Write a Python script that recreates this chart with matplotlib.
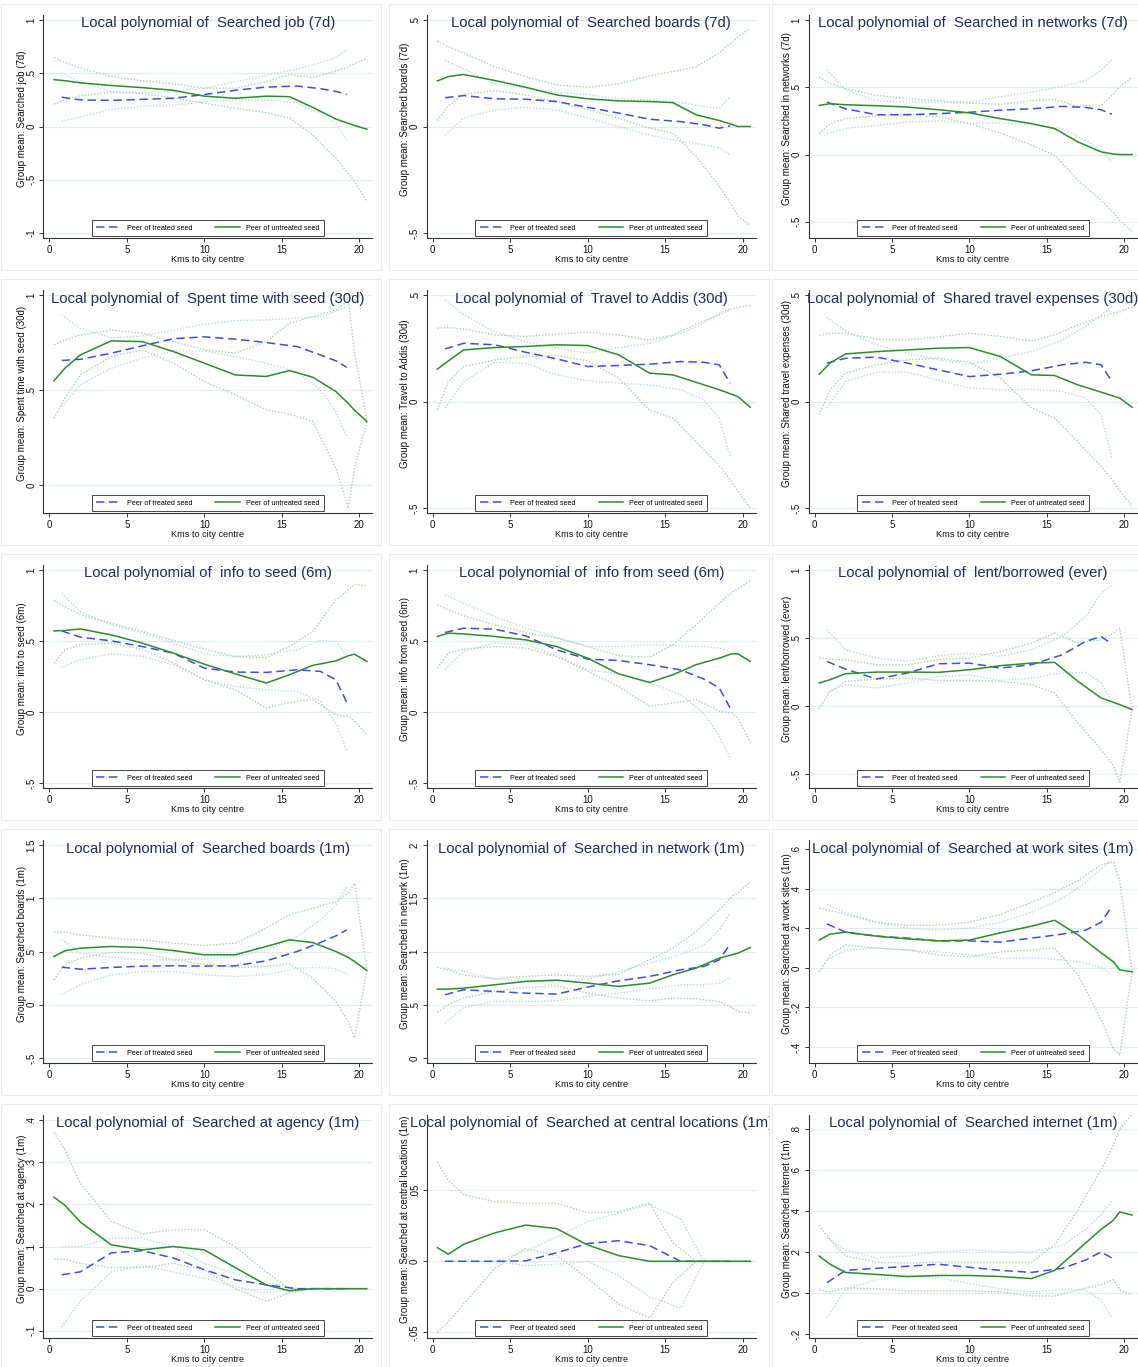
import matplotlib
matplotlib.use('Agg')
import matplotlib.pyplot as plt
from matplotlib.patches import Rectangle
from matplotlib.ticker import FuncFormatter

plt.rcParams['font.family'] = ['Liberation Sans', 'DejaVu Sans']

# distance grids (km) for the two groups
tx = [0.8, 2, 4, 6, 8, 10, 12, 14, 16, 17.5, 18.5, 19.2]
ux = [0.3, 1, 2, 4, 6, 8, 10, 12, 14, 15.5, 17, 18.5, 19.3, 19.7, 20.5]

# 1 Searched job (7d)
job7_t = [0.275, 0.25, 0.245, 0.255, 0.265, 0.30, 0.34, 0.37, 0.38, 0.355, 0.33, 0.30]
job7_t_hi = [0.5, 0.42, 0.33, 0.32, 0.33, 0.36, 0.42, 0.48, 0.54, 0.6, 0.65, 0.72]
job7_t_lo = [0.05, 0.09, 0.16, 0.19, 0.20, 0.23, 0.25, 0.25, 0.22, 0.12, 0.03, -0.13]
job7_u = [0.44, 0.43, 0.41, 0.385, 0.365, 0.34, 0.285, 0.265, 0.285, 0.28, 0.18, 0.07, 0.03, 0.01, -0.025]
job7_u_hi = [0.65, 0.6, 0.55, 0.47, 0.43, 0.4, 0.36, 0.36, 0.42, 0.49, 0.46, 0.52, 0.56, 0.59, 0.64]
job7_u_lo = [0.21, 0.25, 0.29, 0.32, 0.31, 0.27, 0.22, 0.17, 0.13, 0.08, -0.08, -0.3, -0.44, -0.52, -0.7]

# 2 Searched boards (7d)
brd7_t = [0.135, 0.145, 0.13, 0.128, 0.117, 0.09, 0.063, 0.034, 0.023, 0.008, -0.008, 0.003]
brd7_t_hi = [0.31, 0.27, 0.2, 0.18, 0.16, 0.15, 0.13, 0.125, 0.112, 0.094, 0.086, 0.14]
brd7_t_lo = [-0.04, 0.04, 0.078, 0.09, 0.078, 0.04, 0.0, -0.04, -0.07, -0.086, -0.1, -0.133]
brd7_u = [0.214, 0.234, 0.244, 0.216, 0.184, 0.148, 0.13, 0.12, 0.117, 0.112, 0.055, 0.028, 0.01, 0.0, 0.0]
brd7_u_hi = [0.4, 0.375, 0.344, 0.28, 0.234, 0.195, 0.184, 0.2, 0.237, 0.258, 0.28, 0.344, 0.395, 0.42, 0.46]
brd7_u_lo = [0.028, 0.097, 0.15, 0.169, 0.148, 0.117, 0.078, 0.04, -0.008, -0.03, -0.14, -0.28, -0.37, -0.42, -0.465]

# 3 Searched in networks (7d)
net7_t = [0.39, 0.34, 0.296, 0.296, 0.304, 0.314, 0.33, 0.34, 0.358, 0.35, 0.333, 0.3]
net7_t_hi = [0.63, 0.48, 0.4, 0.39, 0.39, 0.39, 0.43, 0.464, 0.506, 0.55, 0.625, 0.706]
net7_t_lo = [0.155, 0.193, 0.217, 0.242, 0.25, 0.235, 0.235, 0.225, 0.193, 0.106, 0.032, -0.054]
net7_u = [0.365, 0.378, 0.37, 0.363, 0.353, 0.333, 0.31, 0.267, 0.23, 0.193, 0.094, 0.02, 0.004, 0.0, 0.0]
net7_u_hi = [0.575, 0.53, 0.49, 0.44, 0.415, 0.4, 0.383, 0.373, 0.4, 0.41, 0.358, 0.365, 0.45, 0.5, 0.575]
net7_u_lo = [0.155, 0.23, 0.267, 0.29, 0.3, 0.28, 0.23, 0.16, 0.07, -0.005, -0.19, -0.34, -0.43, -0.49, -0.57]

# 4 Spent time with seed (30d)
time30_t = [0.656, 0.662, 0.694, 0.733, 0.77, 0.78, 0.768, 0.75, 0.729, 0.685, 0.654, 0.62]
time30_t_hi = [0.895, 0.825, 0.776, 0.785, 0.816, 0.846, 0.865, 0.869, 0.878, 0.886, 0.913, 0.94]
time30_t_lo = [0.414, 0.528, 0.615, 0.668, 0.706, 0.706, 0.676, 0.642, 0.598, 0.502, 0.388, 0.257]
time30_u = [0.549, 0.615, 0.685, 0.759, 0.755, 0.703, 0.642, 0.58, 0.572, 0.603, 0.568, 0.493, 0.43, 0.395, 0.336]
time30_u_hi = [0.738, 0.764, 0.79, 0.816, 0.799, 0.755, 0.712, 0.694, 0.755, 0.851, 0.886, 0.92, 0.97, 0.7, 0.34]
time30_u_lo = [0.353, 0.458, 0.58, 0.677, 0.712, 0.642, 0.545, 0.476, 0.397, 0.374, 0.336, 0.09, -0.12, 0.09, 0.336]

# 5 Travel to Addis (30d)
addis_t = [0.247, 0.273, 0.266, 0.231, 0.2, 0.164, 0.169, 0.175, 0.1875, 0.184, 0.172, 0.086]
addis_t_hi = [0.477, 0.406, 0.328, 0.28, 0.25, 0.227, 0.253, 0.273, 0.32, 0.367, 0.414, 0.4375]
addis_t_lo = [-0.03, 0.094, 0.184, 0.18, 0.125, 0.097, 0.086, 0.078, 0.055, 0.008, -0.078, -0.258]
addis_u = [0.152, 0.19, 0.242, 0.253, 0.258, 0.266, 0.2625, 0.219, 0.133, 0.125, 0.09, 0.055, 0.034, 0.023, -0.027]
addis_u_hi = [0.344, 0.347, 0.34, 0.3125, 0.305, 0.316, 0.325, 0.3125, 0.2875, 0.3125, 0.3625, 0.406, 0.434, 0.442, 0.45]
addis_u_lo = [-0.04, 0.094, 0.164, 0.195, 0.211, 0.216, 0.19, 0.11, -0.04, -0.078, -0.19, -0.3, -0.375, -0.42, -0.5]

# 6 Shared travel expenses (30d)
share_t = [0.18, 0.203, 0.208, 0.18, 0.148, 0.117, 0.128, 0.144, 0.172, 0.184, 0.172, 0.094]
share_t_hi = [0.394, 0.331, 0.266, 0.227, 0.195, 0.175, 0.203, 0.234, 0.289, 0.352, 0.406, 0.445]
share_t_lo = [-0.03, 0.094, 0.1375, 0.1375, 0.1, 0.0625, 0.055, 0.058, 0.047, 0.016, -0.0625, -0.266]
share_u = [0.128, 0.18, 0.223, 0.234, 0.242, 0.25, 0.253, 0.211, 0.125, 0.122, 0.078, 0.044, 0.025, 0.016, -0.027]
share_u_hi = [0.309, 0.32, 0.32, 0.294, 0.289, 0.303, 0.32, 0.305, 0.284, 0.3125, 0.359, 0.398, 0.414, 0.42, 0.445]
share_u_lo = [-0.0625, 0.055, 0.133, 0.172, 0.195, 0.203, 0.184, 0.11, -0.03, -0.078, -0.19, -0.305, -0.375, -0.42, -0.49]

# 7 info to seed (6m)
info_to_t = [0.571, 0.527, 0.501, 0.461, 0.415, 0.309, 0.281, 0.279, 0.297, 0.286, 0.227, 0.068]
info_to_t_hi = [0.836, 0.707, 0.614, 0.555, 0.485, 0.41, 0.391, 0.403, 0.438, 0.504, 0.497, 0.4]
info_to_t_lo = [0.316, 0.368, 0.41, 0.391, 0.333, 0.227, 0.18, 0.157, 0.145, 0.075, -0.077, -0.276]
info_to_u = [0.571, 0.574, 0.585, 0.543, 0.485, 0.415, 0.337, 0.269, 0.204, 0.262, 0.328, 0.36, 0.396, 0.407, 0.356]
info_to_u_hi = [0.785, 0.742, 0.684, 0.625, 0.567, 0.504, 0.443, 0.391, 0.384, 0.461, 0.567, 0.789, 0.859, 0.899, 0.888]
info_to_u_lo = [0.344, 0.438, 0.473, 0.485, 0.443, 0.344, 0.227, 0.157, 0.028, 0.068, 0.087, -0.019, -0.03, -0.066, -0.159]

# 8 info from seed (6m)
info_from_t = [0.56, 0.59, 0.583, 0.536, 0.438, 0.372, 0.363, 0.333, 0.297, 0.232, 0.169, 0.028]
info_from_t_hi = [0.824, 0.766, 0.672, 0.59, 0.527, 0.461, 0.461, 0.473, 0.466, 0.461, 0.45, 0.426]
info_from_t_lo = [0.302, 0.426, 0.485, 0.478, 0.396, 0.297, 0.269, 0.208, 0.122, -0.007, -0.171, -0.323]
info_from_u = [0.532, 0.555, 0.55, 0.532, 0.508, 0.461, 0.379, 0.269, 0.208, 0.262, 0.333, 0.379, 0.41, 0.41, 0.356]
info_from_u_hi = [0.754, 0.719, 0.677, 0.614, 0.56, 0.52, 0.461, 0.396, 0.386, 0.473, 0.614, 0.766, 0.841, 0.871, 0.925]
info_from_u_lo = [0.309, 0.415, 0.443, 0.461, 0.45, 0.391, 0.286, 0.18, 0.04, 0.063, 0.087, 0.005, -0.007, -0.042, -0.213]

# 9 lent/borrowed (ever)
lent_t = [0.329, 0.273, 0.2, 0.244, 0.312, 0.317, 0.28, 0.305, 0.378, 0.476, 0.512, 0.456]
lent_t_hi = [0.561, 0.415, 0.354, 0.329, 0.371, 0.39, 0.366, 0.415, 0.512, 0.659, 0.829, 0.89]
lent_t_lo = [0.098, 0.159, 0.134, 0.171, 0.215, 0.232, 0.19, 0.207, 0.244, 0.249, 0.171, 0.037]
lent_u = [0.171, 0.195, 0.239, 0.251, 0.251, 0.249, 0.268, 0.298, 0.317, 0.322, 0.183, 0.061, 0.029, 0.012, -0.024]
lent_u_hi = [0.354, 0.346, 0.341, 0.305, 0.305, 0.341, 0.354, 0.402, 0.463, 0.537, 0.463, 0.488, 0.537, 0.573, -0.024]
lent_u_lo = [-0.02, 0.11, 0.183, 0.2, 0.207, 0.19, 0.19, 0.183, 0.159, 0.098, -0.122, -0.317, -0.439, -0.556, -0.024]

# 10 Searched boards (1m)
brd1_t = [0.353, 0.334, 0.35, 0.3625, 0.366, 0.3625, 0.366, 0.4125, 0.5, 0.584, 0.647, 0.703]
brd1_t_hi = [0.609, 0.484, 0.444, 0.422, 0.422, 0.431, 0.453, 0.516, 0.64, 0.797, 0.9375, 1.11]
brd1_t_lo = [0.1, 0.1875, 0.281, 0.3125, 0.3125, 0.281, 0.266, 0.281, 0.344, 0.35, 0.3375, 0.2875]
brd1_u = [0.453, 0.506, 0.531, 0.547, 0.5375, 0.509, 0.469, 0.469, 0.547, 0.609, 0.584, 0.5, 0.444, 0.406, 0.322]
brd1_u_hi = [0.681, 0.681, 0.656, 0.625, 0.609, 0.578, 0.556, 0.578, 0.719, 0.844, 0.906, 0.969, 1.047, 1.14, 0.322]
brd1_u_lo = [0.234, 0.375, 0.4375, 0.494, 0.484, 0.422, 0.381, 0.35, 0.359, 0.381, 0.25, 0.031, -0.156, -0.3125, 0.322]

# 11 Searched in network (1m)
net1_t = [0.594, 0.641, 0.625, 0.609, 0.6, 0.666, 0.725, 0.766, 0.828, 0.859, 0.922, 1.069]
net1_t_hi = [0.844, 0.8125, 0.744, 0.725, 0.719, 0.744, 0.8125, 0.891, 0.969, 1.0625, 1.203, 1.36]
net1_t_lo = [0.328, 0.475, 0.531, 0.531, 0.5375, 0.578, 0.609, 0.65, 0.6875, 0.6875, 0.703, 0.756]
net1_u = [0.647, 0.647, 0.656, 0.6875, 0.719, 0.731, 0.703, 0.672, 0.703, 0.781, 0.844, 0.9375, 0.969, 0.984, 1.0375]
net1_u_hi = [0.85, 0.828, 0.781, 0.744, 0.766, 0.781, 0.766, 0.7875, 0.922, 1.031, 1.1875, 1.39, 1.516, 1.547, 1.656]
net1_u_lo = [0.431, 0.5, 0.5625, 0.625, 0.6625, 0.678, 0.609, 0.5625, 0.5375, 0.5625, 0.556, 0.531, 0.475, 0.4375, 0.422]

# 12 Searched at work sites (1m)
work_t = [0.222, 0.18, 0.16, 0.15, 0.136, 0.136, 0.13, 0.15, 0.17, 0.19, 0.23, 0.31]
work_t_hi = [0.32, 0.28, 0.23, 0.2, 0.19, 0.2, 0.23, 0.28, 0.35, 0.43, 0.5, 0.545]
work_t_lo = [0.04, 0.09, 0.1, 0.09, 0.08, 0.065, 0.05, 0.05, 0.04, 0.025, 0.0, -0.035]
work_u = [0.14, 0.17, 0.18, 0.16, 0.146, 0.136, 0.14, 0.177, 0.21, 0.24, 0.167, 0.076, 0.03, -0.01, -0.02]
work_u_hi = [0.3, 0.29, 0.27, 0.23, 0.215, 0.215, 0.23, 0.27, 0.33, 0.38, 0.44, 0.52, 0.535, 0.44, -0.02]
work_u_lo = [-0.02, 0.065, 0.115, 0.1, 0.09, 0.065, 0.055, 0.08, 0.09, 0.1, -0.035, -0.26, -0.41, -0.44, -0.02]

# 13 Searched at agency (1m)
agency_t = [0.033, 0.04, 0.085, 0.09, 0.073, 0.045, 0.021, 0.009, 0.0, 0.0, 0.0, 0.0]
agency_t_hi = [0.1, 0.1, 0.12, 0.12, 0.1, 0.06, 0.035, 0.015, 0.0, 0.0, 0.0, 0.0]
agency_t_lo = [-0.09, -0.03, 0.04, 0.055, 0.04, 0.025, 0.005, -0.01, 0.0, 0.0, 0.0, 0.0]
agency_u = [0.217, 0.198, 0.158, 0.104, 0.092, 0.1, 0.092, 0.05, 0.009, -0.005, 0.0, 0.0, 0.0, 0.0, 0.0]
agency_u_hi = [0.37, 0.33, 0.25, 0.16, 0.13, 0.14, 0.14, 0.1, 0.04, 0.0, 0.0, 0.0, 0.0, 0.0, 0.0]
agency_u_lo = [0.07, 0.07, 0.06, 0.05, 0.05, 0.06, 0.045, 0.0, -0.03, -0.01, 0.0, 0.0, 0.0, 0.0, 0.0]

# 14 Searched at central locations (1m)
central_t = [0.0, 0.0, 0.0, 0.0003, 0.006, 0.0125, 0.0145, 0.011, 0.0, 0.0, 0.0, 0.0]
central_t_hi = [0.0, 0.0, 0.0, 0.007, 0.017, 0.028, 0.034, 0.04, 0.03, 0.0, 0.0, 0.0]
central_t_lo = [0.0, 0.0, 0.0, -0.003, -0.002, 0.0, -0.01, -0.025, -0.033, 0.0, 0.0, 0.0]
central_u = [0.0096, 0.005, 0.012, 0.02, 0.0255, 0.023, 0.0115, 0.004, 0.0, 0.0, 0.0, 0.0, 0.0, 0.0, 0.0]
central_u_hi = [0.07, 0.057, 0.047, 0.042, 0.041, 0.041, 0.034, 0.035, 0.041, 0.013, 0.0, 0.0, 0.0, 0.0, 0.0]
central_u_lo = [-0.05, -0.043, -0.03, -0.005, 0.009, 0.004, -0.012, -0.03, -0.04, -0.015, 0.0, 0.0, 0.0, 0.0, 0.0]

# 15 Searched internet (1m)
inet_t = [0.05, 0.11, 0.12, 0.13, 0.14, 0.125, 0.11, 0.1, 0.12, 0.16, 0.2, 0.17]
inet_t_hi = [0.27, 0.21, 0.17, 0.18, 0.2, 0.21, 0.2, 0.2, 0.23, 0.31, 0.38, 0.45]
inet_t_lo = [-0.12, 0.015, 0.065, 0.08, 0.075, 0.045, 0.02, 0.005, 0.015, 0.015, -0.035, -0.12]
inet_u = [0.18, 0.14, 0.1, 0.09, 0.08, 0.085, 0.085, 0.08, 0.07, 0.11, 0.21, 0.31, 0.355, 0.395, 0.38]
inet_u_hi = [0.33, 0.26, 0.18, 0.15, 0.145, 0.15, 0.15, 0.15, 0.15, 0.235, 0.405, 0.6, 0.72, 0.8, 0.87]
inet_u_lo = [0.015, 0.005, 0.025, 0.02, 0.01, 0.01, 0.01, 0.005, -0.015, -0.015, 0.015, 0.04, 0.065, 0.015, -0.01]

outcomes = ['Searched job (7d)', 'Searched boards (7d)', 'Searched in networks (7d)',
            'Spent time with seed (30d)', 'Travel to Addis (30d)', 'Shared travel expenses (30d)',
            'info to seed (6m)', 'info from seed (6m)', 'lent/borrowed (ever)',
            'Searched boards (1m)', 'Searched in network (1m)', 'Searched at work sites (1m)',
            'Searched at agency (1m)', 'Searched at central locations (1m)', 'Searched internet (1m)']

yticks = [[-1, -0.5, 0, 0.5, 1], [-0.5, 0, 0.5], [-0.5, 0, 0.5, 1],
          [0, 0.5, 1], [-0.5, 0, 0.5], [-0.5, 0, 0.5],
          [-0.5, 0, 0.5, 1], [-0.5, 0, 0.5, 1], [-0.5, 0, 0.5, 1],
          [-0.5, 0, 0.5, 1, 1.5], [0, 0.5, 1, 1.5, 2], [-0.4, -0.2, 0, 0.2, 0.4, 0.6],
          [-0.1, 0, 0.1, 0.2, 0.3, 0.4], [-0.05, 0, 0.05], [-0.2, 0, 0.2, 0.4, 0.6, 0.8]]

ylims = [(-1.047, 1.047), (-0.523, 0.523), (-0.62, 1.037),
         (-0.145, 1.026), (-0.523, 0.523), (-0.523, 0.523),
         (-0.535, 1.035), (-0.535, 1.035), (-0.6, 1.037),
         (-0.547, 1.547), (-0.047, 2.047), (-0.48, 0.645),
         (-0.117, 0.412), (-0.054, 0.103), (-0.22, 0.868)]

series = [
    (job7_t, job7_t_lo, job7_t_hi, job7_u, job7_u_lo, job7_u_hi),
    (brd7_t, brd7_t_lo, brd7_t_hi, brd7_u, brd7_u_lo, brd7_u_hi),
    (net7_t, net7_t_lo, net7_t_hi, net7_u, net7_u_lo, net7_u_hi),
    (time30_t, time30_t_lo, time30_t_hi, time30_u, time30_u_lo, time30_u_hi),
    (addis_t, addis_t_lo, addis_t_hi, addis_u, addis_u_lo, addis_u_hi),
    (share_t, share_t_lo, share_t_hi, share_u, share_u_lo, share_u_hi),
    (info_to_t, info_to_t_lo, info_to_t_hi, info_to_u, info_to_u_lo, info_to_u_hi),
    (info_from_t, info_from_t_lo, info_from_t_hi, info_from_u, info_from_u_lo, info_from_u_hi),
    (lent_t, lent_t_lo, lent_t_hi, lent_u, lent_u_lo, lent_u_hi),
    (brd1_t, brd1_t_lo, brd1_t_hi, brd1_u, brd1_u_lo, brd1_u_hi),
    (net1_t, net1_t_lo, net1_t_hi, net1_u, net1_u_lo, net1_u_hi),
    (work_t, work_t_lo, work_t_hi, work_u, work_u_lo, work_u_hi),
    (agency_t, agency_t_lo, agency_t_hi, agency_u, agency_u_lo, agency_u_hi),
    (central_t, central_t_lo, central_t_hi, central_u, central_u_lo, central_u_hi),
    (inet_t, inet_t_lo, inet_t_hi, inet_u, inet_u_lo, inet_u_hi),
]


def stata_fmt(v, pos=None):
    s = '%g' % round(v, 4)
    if s.startswith('0.'):
        s = s[1:]
    elif s.startswith('-0.'):
        s = '-' + s[2:]
    return s


W, H = 1138, 1367
fig = plt.figure(figsize=(W / 100, H / 100), dpi=100)

blue = '#3d4de8'
green = '#2b8c2b'
blue_ci = '#b4dbea'
green_ci = '#a6d4a6'
navy = '#1f2d5c'

ax_left = [43.3, 426.7, 808.5]
panel_x0 = [1, 389, 772]
ax_w, ax_h = 329, 223

for i, (name, yt, yl, s) in enumerate(zip(outcomes, yticks, ylims, series)):
    r, c = divmod(i, 3)
    t, t_lo, t_hi, u, u_lo, u_hi = s

    # faint outer box of each sub-graph
    box = Rectangle((panel_x0[c] / W, 1 - (270 + 275 * r) / H), 380 / W, 266 / H,
                    transform=fig.transFigure, fill=False, ec='#e4ecef', lw=0.8)
    fig.patches.append(box)

    top = 15 + 275 * r
    ax = fig.add_axes([ax_left[c] / W, 1 - (top + ax_h) / H, ax_w / W, ax_h / H])

    ax.plot(tx, t_hi, color=blue_ci, lw=1.0, ls=(0, (1, 1.3)))
    ax.plot(tx, t_lo, color=blue_ci, lw=1.0, ls=(0, (1, 1.3)))
    ax.plot(ux, u_hi, color=green_ci, lw=1.0, ls=(0, (1, 1.3)))
    ax.plot(ux, u_lo, color=green_ci, lw=1.0, ls=(0, (1, 1.3)))
    ax.plot(tx, t, color=blue, lw=1.1, ls=(0, (5.5, 3)), label='Peer of treated seed')
    ax.plot(ux, u, color=green, lw=1.1, label='Peer of untreated seed')

    ax.set_xlim(-0.39, 20.85)
    ax.set_ylim(*yl)
    ax.set_xticks([0, 5, 10, 15, 20])
    ax.set_yticks(yt)
    ax.yaxis.set_major_formatter(FuncFormatter(stata_fmt))
    ax.xaxis.set_major_formatter(FuncFormatter(stata_fmt))
    ax.yaxis.grid(True, color='#e2eeee', lw=0.9)
    ax.set_axisbelow(True)

    for side in ['top', 'right']:
        ax.spines[side].set_visible(False)
    for side in ['left', 'bottom']:
        ax.spines[side].set_color('#333333')
        ax.spines[side].set_linewidth(0.8)
    ax.tick_params(length=3, width=0.7, color='#333333', labelsize=7,
                   labelcolor='#111111', pad=2)
    ax.tick_params(axis='y', labelrotation=90)
    for lbl in ax.get_yticklabels():
        lbl.set_va('center')

    ax.text(-0.0657, 0.534, 'Group mean: ' + name, rotation=90, ha='center', va='center',
            fontsize=7, color='#111111', transform=ax.transAxes)
    ax.text(0.5, -0.0964, 'Kms to city centre', ha='center', va='center',
            fontsize=6.6, color='#111111', transform=ax.transAxes)

    leg = ax.legend(loc='lower center', bbox_to_anchor=(0.5, 0.009), ncol=2,
                    fontsize=5.2, handlelength=3.4, handletextpad=0.8,
                    columnspacing=3.2, borderpad=0.6, borderaxespad=0,
                    fancybox=False, framealpha=1)
    leg.get_frame().set_edgecolor('#444444')
    leg.get_frame().set_linewidth(0.7)

    ttl = fig.text((ax_left[c] + ax_w / 2) / W, 1 - (27.5 + 275 * r) / H,
                   'Local polynomial of  ' + name, ha='center', va='baseline',
                   fontsize=10.7, color=navy)
    ttl.set_clip_path(box)

fig.savefig('out.png', dpi=100, facecolor='white')
